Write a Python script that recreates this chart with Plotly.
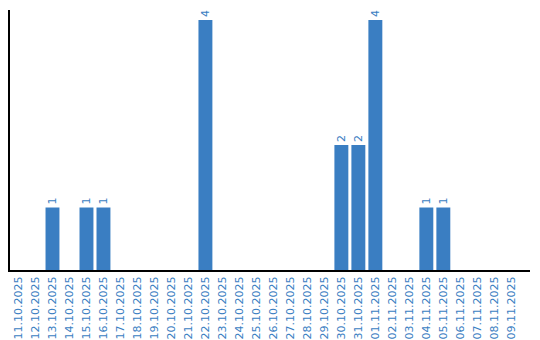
import plotly.graph_objects as go

dates = ["11.10.2025","12.10.2025","13.10.2025","14.10.2025","15.10.2025","16.10.2025",
         "17.10.2025","18.10.2025","19.10.2025","20.10.2025","21.10.2025","22.10.2025",
         "23.10.2025","24.10.2025","25.10.2025","26.10.2025","27.10.2025","28.10.2025",
         "29.10.2025","30.10.2025","31.10.2025","01.11.2025","02.11.2025","03.11.2025",
         "04.11.2025","05.11.2025","06.11.2025","07.11.2025","08.11.2025","09.11.2025"]
counts = [0,0,1,0,1,1,0,0,0,0,0,4,0,0,0,0,0,0,0,2,2,4,0,0,1,1,0,0,0,0]

blue = "#3a7ec2"
labels = [str(c) if c > 0 else "" for c in counts]

fig = go.Figure(go.Bar(
    x=dates, y=counts, marker_color=blue, marker_line_width=0,
    text=labels, textposition="outside", textangle=-90,
    textfont=dict(color=blue, size=11, family="DejaVu Sans"),
    cliponaxis=False,
))
fig.update_layout(
    width=540, height=340,
    margin=dict(l=10, r=10, t=10, b=70),
    plot_bgcolor="white", paper_bgcolor="white",
    bargap=0.18, showlegend=False,
    font=dict(family="DejaVu Sans", size=11, color=blue),
)
fig.update_xaxes(type="category", tickangle=-90, showline=True, linecolor="black",
                 linewidth=2, showgrid=False, ticks="", automargin=False,
                 range=[-0.5, 30.1], tickfont=dict(color=blue, size=11))
fig.update_yaxes(range=[0, 4.16], showline=True, linecolor="black", linewidth=2,
                 showgrid=False, showticklabels=False, ticks="", zeroline=False,
                 automargin=False)
fig.write_html("out.html")
